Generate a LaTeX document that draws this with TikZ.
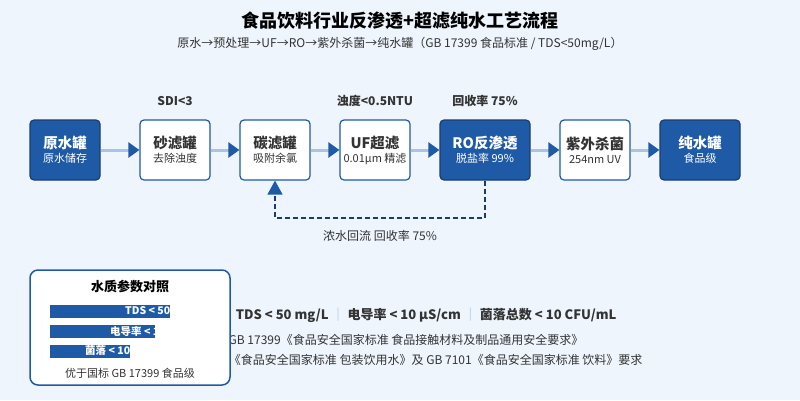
\documentclass[tikz,border=0pt]{standalone}
\usepackage{fontspec}
\setmainfont{Noto Sans CJK SC}
\usetikzlibrary{arrows.meta, positioning, calc}
\definecolor{bgc}{HTML}{EEF5FD}
\definecolor{blu}{HTML}{1F5AA6}
\definecolor{dblu}{HTML}{1B3D6E}
\definecolor{lblu}{HTML}{A9C4E6}
\definecolor{txt}{HTML}{333333}
\tikzset{
  proc/.style={draw=blu, line width=1.2pt, rounded corners=4pt, fill=white, minimum height=60pt, align=center, text=txt},
  keyproc/.style={proc, draw=dblu, fill=blu, text=white},
  flow/.style={lblu, line width=3pt, -{Triangle[length=11pt, width=15pt, color=blu]}},
  note/.style={font=\bfseries\fontsize{12}{14}\selectfont, text=txt},
  plain/.style={font=\fontsize{12}{14}\selectfont, text=txt},
}
\newcommand{\stp}[2]{{\bfseries\fontsize{14.5}{17}\selectfont #1}\\[2pt]{\fontsize{11}{13}\selectfont #2}}
\begin{document}
\begin{tikzpicture}[x=1pt, y=-1pt]
    \fill[bgc] (0,0) rectangle (800,400);
    \useasboundingbox (0,0) rectangle (800,400);

    \node[font=\bfseries\fontsize{18}{21}\selectfont, text=black] (title) at (400,21) {食品饮料行业反渗透+超滤纯水工艺流程};
    \node[plain] (sub) at (400,44) {原水→预处理→UF→RO→紫外杀菌→纯水罐（GB 17399 食品标准 / TDS<50mg/L）};

    \node[keyproc, minimum width=70pt] (raw) at (65,150) {\stp{原水罐}{原水储存}};
    \node[proc, minimum width=70pt] (sand) at (175,150) {\stp{砂滤罐}{去除浊度}};
    \node[proc, minimum width=70pt] (carbon) at (275,150) {\stp{碳滤罐}{吸附余氯}};
    \node[proc, minimum width=70pt] (uf) at (375,150) {\stp{UF超滤}{0.01μm 精滤}};
    \node[keyproc, minimum width=90pt] (ro) at (485,150) {\stp{RO反渗透}{脱盐率 99\%}};
    \node[proc, minimum width=70pt] (uv) at (595,150) {\stp{紫外杀菌}{254nm UV}};
    \node[keyproc, minimum width=80pt] (tank) at (700,150) {\stp{纯水罐}{食品级}};

    \node[note] at (175,101) {SDI<3};
    \node[note] at (375,101) {浊度<0.5NTU};
    \node[note] at (485,101) {回收率 75\%};

    \draw[flow] (raw) -- (sand);
    \draw[flow] (sand) -- (carbon);
    \draw[flow] (carbon) -- (uf);
    \draw[flow] (uf) -- (ro);
    \draw[flow] (ro) -- (uv);
    \draw[flow] (uv) -- (tank);

    \coordinate (back) at (485,218);
    \draw[dblu, line width=1.3pt, dash pattern=on 5pt off 3pt, -{Triangle[length=14pt, width=15pt, color=blu]}]
        (ro.south) -- (back) -| (carbon.south);
    \node[plain] (backlbl) at (380,236) {浓水回流 回收率 75\%};

    % standards text, partly behind the legend box
    \node[anchor=east, font=\bfseries\fontsize{13}{15}\selectfont, text=txt] (std1) at (620,315) {出水指标：TDS < 50 mg/L \textcolor{lblu}{｜} 电导率 < 10 μS/cm \textcolor{lblu}{｜} 菌落总数 < 10 CFU/mL};
    \node[anchor=east, plain] (std2) at (587,340) {接触材料符合 GB 17399《食品安全国家标准 食品接触材料及制品通用安全要求》};
    \node[anchor=east, plain] (std3) at (646,360) {产品水满足《食品安全国家标准 包装饮用水》及 GB 7101《食品安全国家标准 饮料》要求};

    % legend
    \node[draw=blu, line width=1.5pt, fill=white, rounded corners=8pt, minimum width=200pt, minimum height=115pt] (legend) at (130,327.5) {};
    \node[font=\bfseries\fontsize{13}{15}\selectfont, text=black] at (130,286) {水质参数对照};
    \foreach \w/\y/\t in {120/311/TDS < 50, 105/331/电导率 < 10, 80/351/菌落 < 10} {
        \begin{scope}
            \clip (50,\y-6.5) rectangle (50+\w,\y+6.5);
            \fill[blu] (50,\y-6.5) rectangle (50+\w,\y+6.5);
            \node[anchor=west, text=white, font=\bfseries\fontsize{10.5}{12}\selectfont, inner sep=0pt] at (50+\w-45,\y) {\t};
        \end{scope}
    }
    \node[font=\fontsize{11}{13}\selectfont, text=txt] at (130,373) {优于国标 GB 17399 食品级};
\end{tikzpicture}
\end{document}
